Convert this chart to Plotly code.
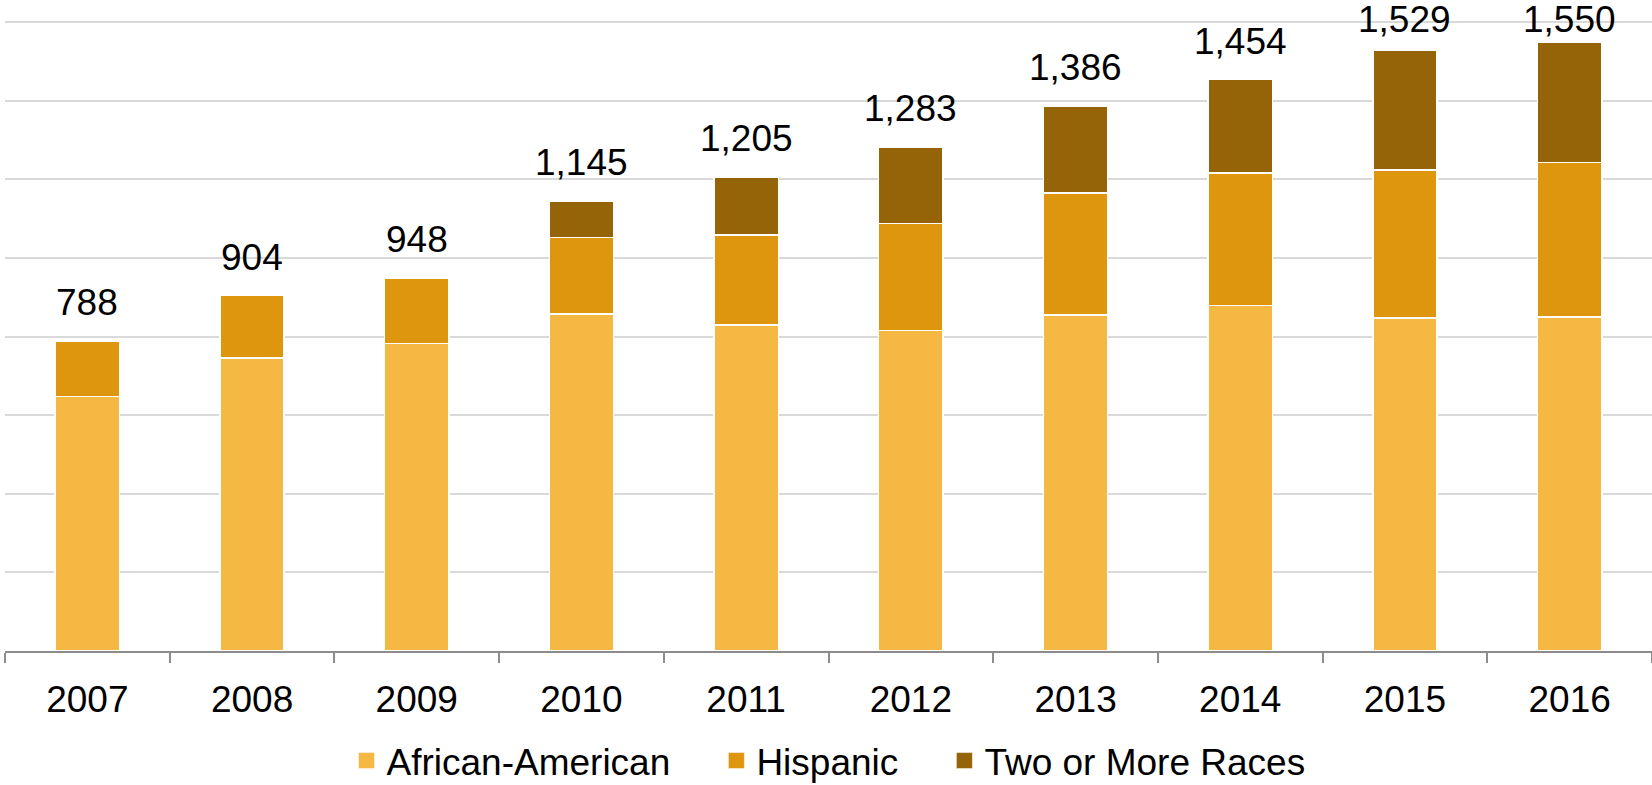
import plotly.graph_objects as go

years = [2007, 2008, 2009, 2010, 2011, 2012, 2013, 2014, 2015, 2016]
african_american = [647, 746, 783, 857, 830, 815, 855, 879, 847, 850]
hispanic = [141, 158, 165, 195, 229, 273, 311, 337, 377, 393]
two_or_more = [0, 0, 0, 93, 146, 195, 220, 238, 305, 307]
totals = [788, 904, 948, 1145, 1205, 1283, 1386, 1454, 1529, 1550]
total_labels = ["788", "904", "948", "1,145", "1,205", "1,283", "1,386", "1,454", "1,529", "1,550"]

series = [
    ("African-American", african_american, "#F5B843"),
    ("Hispanic", hispanic, "#DE960E"),
    ("Two or More Races", two_or_more, "#966408"),
]

FONT = "Liberation Sans, Arial, sans-serif"
PAD = "\u00a0" * 4
LABEL_CAP = 1508  # labels of the tallest bars are kept inside the chart top

fig = go.Figure()
for name, vals, color in series:
    fig.add_trace(go.Bar(
        x=years, y=vals, name=name, width=0.39, showlegend=False,
        marker=dict(color=color, line=dict(color="white", width=1.5)),
    ))

# legend-only entries with larger square swatches
for name, vals, color in series:
    fig.add_trace(go.Scatter(
        x=[None], y=[None], mode="markers", name=name + PAD,
        marker=dict(symbol="square", size=16, color=color,
                    line=dict(color="white", width=0.5)),
        hoverinfo="skip",
    ))

for yr, tot, lab in zip(years, totals, total_labels):
    fig.add_annotation(x=yr, y=min(tot, LABEL_CAP), text=lab, showarrow=False,
                       yanchor="bottom", yshift=16,
                       font=dict(family=FONT, size=37, color="black"))

W, H = 1652, 785
L, R, T, B = 5, 0, 21, 134
pw = W - L - R
ph = H - T - B

boundaries = [y - 0.5 for y in years] + [years[-1] + 0.5]

fig.update_layout(
    width=W, height=H,
    margin=dict(l=L, r=R, t=T, b=B, autoexpand=False),
    paper_bgcolor="white", plot_bgcolor="white",
    barmode="stack",
    font=dict(family=FONT, size=37, color="black"),
    legend=dict(orientation="h", yanchor="middle", xanchor="center",
                x=(849 - L) / pw, y=(H - B - 761) / ph,
                font=dict(family=FONT, size=37, color="black"),
                bgcolor="rgba(0,0,0,0)", traceorder="normal"),
    xaxis=dict(
        range=[years[0] - 0.5, years[-1] + 0.5],
        tickmode="array", tickvals=years, ticktext=[str(y) for y in years],
        showgrid=False, zeroline=False,
        showline=True, linecolor="#8C8C8C", linewidth=1.5,
        ticks="", tickangle=0, ticklabelstandoff=15,
        tickfont=dict(family=FONT, size=37, color="black"),
        minor=dict(tickmode="array", tickvals=boundaries, ticks="outside",
                   ticklen=10, tickcolor="#8C8C8C", tickwidth=1.5, showgrid=False),
    ),
    yaxis=dict(
        range=[0, 1603], dtick=200, showticklabels=False,
        showgrid=True, gridcolor="#D9D9D9", gridwidth=1.5,
        zeroline=False, showline=False, ticks="",
    ),
)

fig.write_html("out.html")
